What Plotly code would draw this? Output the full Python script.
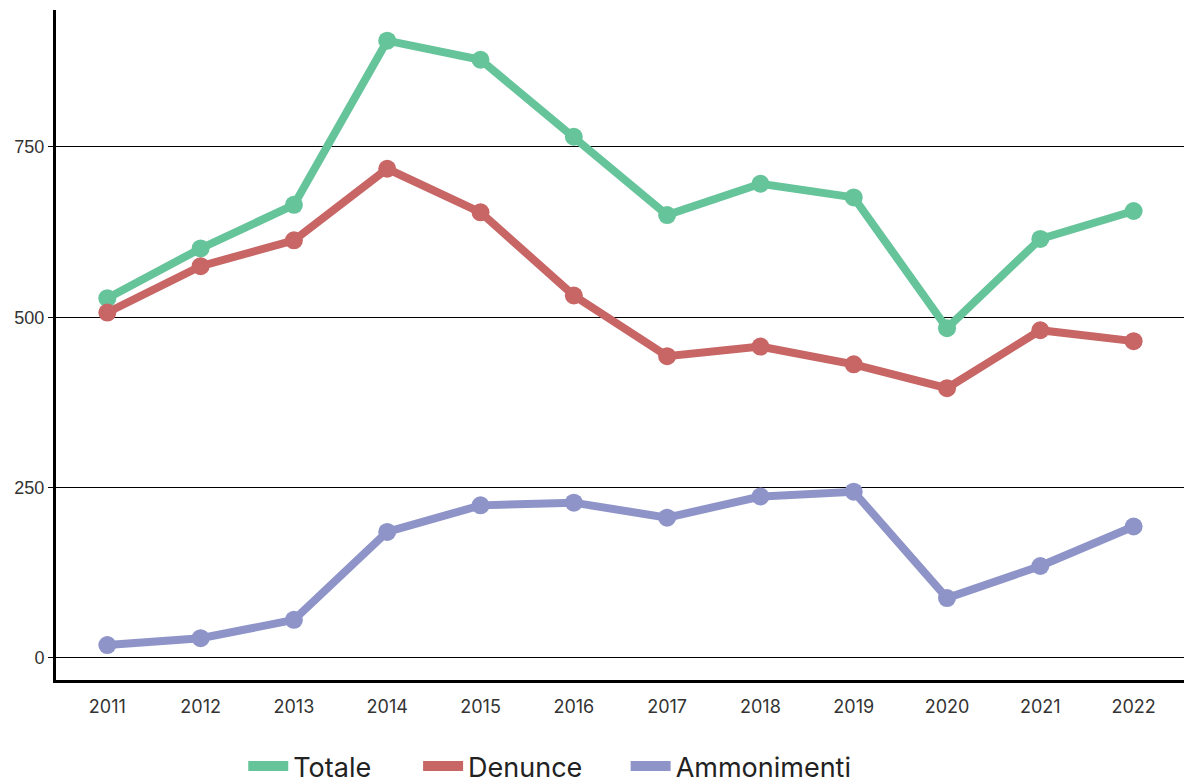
import plotly.graph_objects as go

years = ["2011", "2012", "2013", "2014", "2015", "2016", "2017", "2018", "2019", "2020", "2021", "2022"]
totale = [528, 601, 665, 906, 878, 765, 650, 696, 676, 484, 615, 656]
denunce = [507, 575, 613, 718, 654, 532, 443, 457, 431, 396, 481, 465]
ammonimenti = [19, 29, 56, 185, 224, 228, 206, 237, 244, 88, 135, 193]
y_ticks = [0, 250, 500, 750]

series = [
    ("Totale", totale, "#66C49A"),
    ("Denunce", denunce, "#C86565"),
    ("Ammonimenti", ammonimenti, "#8E94C8"),
]
legend_ids = ["legend", "legend2", "legend3"]
legend_x = [0.166, 0.321, 0.505]

fig = go.Figure()
for name, vals, col in series:
    fig.add_trace(go.Scatter(
        x=years, y=vals, name=name, mode="lines+markers",
        line=dict(color=col, width=8), marker=dict(color=col, size=18),
        showlegend=False,
    ))
for (name, vals, col), lid in zip(series, legend_ids):
    fig.add_trace(go.Scatter(
        x=[None], y=[None], name=name, mode="lines",
        line=dict(color=col, width=13), showlegend=True, legend=lid,
    ))

legend_common = dict(
    orientation="h", xanchor="left", y=-0.129, yanchor="middle",
    font=dict(family="Inter, Open Sans, sans-serif", size=27, color="#222222"),
    itemwidth=40, bgcolor="rgba(0,0,0,0)",
)

fig.update_layout(
    width=1184, height=784,
    margin=dict(l=56, r=0, t=10, b=104, autoexpand=False),
    paper_bgcolor="white", plot_bgcolor="white",
    font=dict(family="Inter, Open Sans, sans-serif", color="#333333", size=16),
    legend=dict(x=legend_x[0], **legend_common),
    legend2=dict(x=legend_x[1], **legend_common),
    legend3=dict(x=legend_x[2], **legend_common),
    xaxis=dict(
        type="category", range=[-0.55, 11.54],
        showline=True, linecolor="black", linewidth=3,
        showgrid=False, ticks="", zeroline=False,
        ticklabelstandoff=8,
        tickfont=dict(size=18, color="#333333"),
    ),
    yaxis=dict(
        range=[-32.3, 951], tickvals=y_ticks,
        showline=True, linecolor="black", linewidth=3,
        showgrid=True, gridcolor="black", gridwidth=1,
        zeroline=False, ticks="outside", ticklen=5, tickcolor="black",
        tickfont=dict(family="Liberation Sans, Arial, sans-serif", size=18, color="#333333"),
    ),
)

fig.write_html("out.html")
